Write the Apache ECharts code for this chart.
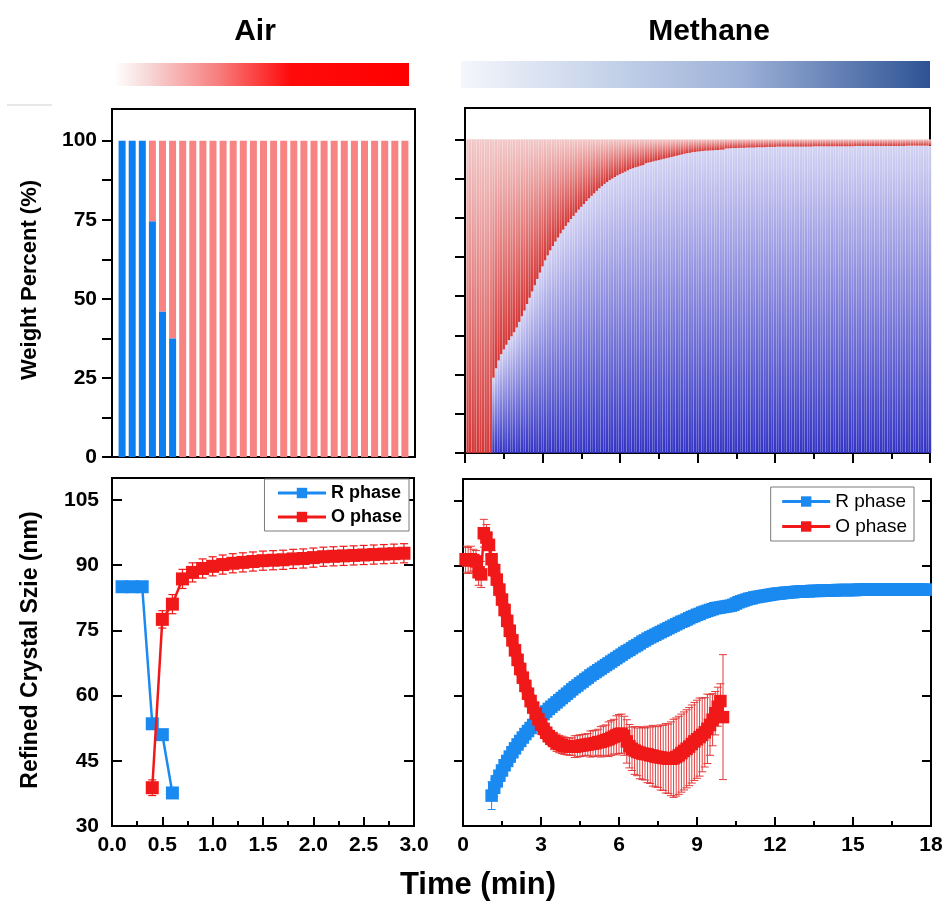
<!DOCTYPE html>
<html>
<head>
<meta charset="utf-8">
<script src="https://cdn.jsdelivr.net/npm/echarts@6/dist/echarts.min.js"></script>
<style>
  html, body { margin: 0; padding: 0; background: #fff; }
  #chart { width: 948px; height: 905px; }
</style>
</head>
<body>
<div id="chart"></div>
<script>
// ---------------- Air atmosphere ----------------
// sampling times of the weight-fraction bars (min)
const airTimes = [0.1,0.2,0.3,0.4,0.5,0.6,0.7,0.8,0.9,1.0,1.1,1.2,1.3,1.4,1.5,1.6,1.7,1.8,1.9,2.0,2.1,2.2,2.3,2.4,2.5,2.6,2.7,2.8,2.9];
// weight percent of the R and O phases
const airWeightR = [100,100,100,74.5,46,37.5,0,0,0,0,0,0,0,0,0,0,0,0,0,0,0,0,0,0,0,0,0,0,0];
const airWeightO = [0,0,0,25.5,54,62.5,100,100,100,100,100,100,100,100,100,100,100,100,100,100,100,100,100,100,100,100,100,100,100];

// refined crystal size (nm) of each phase
const airSizeTimesR = [0.1,0.2,0.3,0.4,0.5,0.6];
const airSizeR = [85,85,85,53.5,51,37.6];
const airSizeRErr = [0.8,0.8,0.8,1,1,1];
const airSizeTimesO = [0.4,0.5,0.6,0.7,0.8,0.9,1.0,1.1,1.2,1.3,1.4,1.5,1.6,1.7,1.8,1.9,2.0,2.1,2.2,2.3,2.4,2.5,2.6,2.7,2.8,2.9];
const airSizeO = [38.8,77.5,81,86.8,88.3,89.2,89.7,90.1,90.4,90.6,90.8,91,91.1,91.2,91.4,91.5,91.7,91.9,92,92.1,92.2,92.3,92.4,92.5,92.6,92.7];
const airSizeOErr = [1.8,2,2.2,2.2,2.2,2.2,2.2,2.2,2.2,2.2,2.2,2.2,2.2,2.2,2.2,2.2,2.2,2.2,2.2,2.2,2.2,2.2,2.2,2.2,2.2,2.2];

// ---------------- Methane atmosphere ----------------
// weight fractions sampled every 0.1 min from 0.1 to 18.0 min
const methaneWeightStart = 0.1;
const methaneStep = 0.1;
const methaneWeightR = [
  0,0,0,0,0,0,0,0,0,0,
  24,27,29.5,31.5,33,34.5,36,37.2,38.5,40,
  41.8,43.6,45.4,47.5,49.5,51.5,53.5,55.5,57.5,59.5,
  61.4,63,64.6,66,67.4,68.7,70,71.2,72.4,73.5,
  74.6,75.6,76.6,77.6,78.5,79.4,80.3,81.2,82,82.8,
  83.6,84.4,85.1,85.8,86.4,87,87.5,88,88.5,88.9,
  89.3,89.7,90.1,90.5,90.8,91.1,91.3,91.6,91.8,92.4,
  92.6,92.8,93,93.2,93.4,93.6,93.8,94,94.2,94.4,
  94.6,94.8,95,95.2,95.4,95.6,95.7,95.9,96,96.1,
  96.2,96.3,96.4,96.4,96.5,96.5,96.6,96.6,96.7,96.7,
  97.1,97.1,97.2,97.2,97.2,97.3,97.3,97.3,97.4,97.4,
  97.4,97.4,97.5,97.5,97.5,97.5,97.6,97.6,97.6,97.6,
  97.7,97.7,97.7,97.7,97.7,97.7,97.7,97.7,97.7,97.7,
  97.7,97.7,97.7,97.7,97.8,97.8,97.8,97.8,97.8,97.8,
  97.8,97.8,97.8,97.8,97.8,97.8,97.8,97.8,97.8,97.8,
  97.9,97.9,97.9,97.9,97.9,97.9,97.9,97.9,97.9,97.9,
  97.9,97.9,97.9,97.9,97.9,97.9,97.9,97.9,97.9,97.9,
  98,98,98,98,98,98,98,98,98,98
];
const methaneWeightO = [
  100,100,100,100,100,100,100,100,100,100,
  76,73,70.5,68.5,67,65.5,64,62.8,61.5,60,
  58.2,56.4,54.6,52.5,50.5,48.5,46.5,44.5,42.5,40.5,
  38.6,37,35.4,34,32.6,31.3,30,28.8,27.6,26.5,
  25.4,24.4,23.4,22.4,21.5,20.6,19.7,18.8,18,17.2,
  16.4,15.6,14.9,14.2,13.6,13,12.5,12,11.5,11.1,
  10.7,10.3,9.9,9.5,9.2,8.9,8.7,8.4,8.2,7.6,
  7.4,7.2,7,6.8,6.6,6.4,6.2,6,5.8,5.6,
  5.4,5.2,5,4.8,4.6,4.4,4.3,4.1,4,3.9,
  3.8,3.7,3.6,3.6,3.5,3.5,3.4,3.4,3.3,3.3,
  2.9,2.9,2.8,2.8,2.8,2.7,2.7,2.7,2.6,2.6,
  2.6,2.6,2.5,2.5,2.5,2.5,2.4,2.4,2.4,2.4,
  2.3,2.3,2.3,2.3,2.3,2.3,2.3,2.3,2.3,2.3,
  2.3,2.3,2.3,2.3,2.2,2.2,2.2,2.2,2.2,2.2,
  2.2,2.2,2.2,2.2,2.2,2.2,2.2,2.2,2.2,2.2,
  2.1,2.1,2.1,2.1,2.1,2.1,2.1,2.1,2.1,2.1,
  2.1,2.1,2.1,2.1,2.1,2.1,2.1,2.1,2.1,2.1,
  2,2,2,2,2,2,2,2,2,2
];

// R-phase crystal size, every 0.1 min from 1.1 to 17.8 min
const methaneSizeRStart = 1.1;
const methaneSizeR = [
  37,38.8,40.3,41.6,42.8,44,45,46,47,47.9,
  48.8,49.6,50.4,51.2,51.9,52.6,53.3,54,54.6,55.2,
  55.8,56.4,57,57.5,58,58.5,59,59.5,60,60.5,
  61,61.5,62,62.4,62.9,63.3,63.8,64.2,64.7,65.1,
  65.5,65.9,66.3,66.7,67.1,67.5,67.9,68.3,68.7,69.1,
  69.5,69.9,70.3,70.6,71,71.4,71.7,72.1,72.5,72.8,
  73.2,73.5,73.8,74.1,74.4,74.7,75,75.3,75.6,75.9,
  76.2,76.5,76.8,77.1,77.3,77.6,77.9,78.2,78.4,78.7,
  78.9,79.2,79.4,79.6,79.8,80,80.2,80.3,80.4,80.5,
  80.6,80.7,80.8,81,81.3,81.6,81.8,82,82.2,82.4,
  82.5,82.7,82.8,82.9,83,83.1,83.2,83.3,83.4,83.5,
  83.6,83.6,83.7,83.8,83.8,83.9,83.9,84,84,84.1,
  84.1,84.1,84.1,84.2,84.2,84.2,84.2,84.3,84.3,84.3,
  84.3,84.3,84.3,84.4,84.4,84.4,84.4,84.4,84.4,84.4,
  84.4,84.5,84.5,84.5,84.5,84.5,84.5,84.5,84.5,84.5,
  84.5,84.5,84.5,84.5,84.5,84.5,84.5,84.5,84.5,84.5,
  84.5,84.5,84.5,84.5,84.5,84.5,84.5,84.5
];
const methaneSizeRErr = [
  3.2,2,1.5,1.2,1,1,1,1,1,1,
  1,1,1,1,1,1,1,1,1,1,
  1,1,1,1,1,1,1,1,1,1,
  1,1,1,1,1,1,1,1,1,1,
  1,1,1,1,1,1,1,1,1,1,
  1,1,1,1,1,1,1,1,1,1,
  1,1,1,1,1,1,1,1,1,1,
  1,1,1,1,1,1,1,1,1,1,
  1,1,1,1,1,1,1,1,1,1,
  1,1,1,1,1,1,1,1,1,1,
  1,1,1,1,1,1,1,1,1,1,
  1,1,1,1,1,1,1,1,1,1,
  1,1,1,1,1,1,1,1,1,1,
  1,1,1,1,1,1,1,1,1,1,
  1,1,1,1,1,1,1,1,1,1,
  1,1,1,1,1,1,1,1,1,1,
  1,1,1,1,1,1,1,1
];

// O-phase crystal size, every 0.1 min from 0.1 to 10.0 min
const methaneSizeOStart = 0.1;
const methaneSizeO = [
  91.5,91.2,91.5,91.3,91,88.5,88,97.5,96.5,94.8,
  91.5,89,86.8,84.5,82.2,79.8,77.3,75,72.8,70.5,
  68.3,66.2,64.2,62.3,60.5,58.8,57.3,55.9,54.6,53.4,
  52.4,51.5,50.7,50.1,49.6,49.2,48.9,48.7,48.5,48.4,
  48.3,48.3,48.3,48.4,48.5,48.6,48.7,48.8,48.9,49,
  49.1,49.3,49.4,49.6,49.8,50,50.3,50.6,50.9,51.2,
  51.3,50.8,49.5,48.4,47.8,47.4,47.1,46.9,46.7,46.6,
  46.5,46.3,46.2,46,45.9,45.8,45.7,45.6,45.5,45.5,
  45.6,45.9,46.3,46.8,47.3,47.8,48.3,48.9,49.5,50,
  50.5,51,51.6,52.4,53.3,54.5,56,57.5,58.8,55.1
];
const methaneSizeOErr = [
  3,3,3,2.5,2.5,3,3,3.2,3,2.5,
  2,1.5,1.5,1.5,1.5,1.5,1.5,1.5,1.5,1.5,
  1.5,1.5,1.5,1.5,1.5,1.5,1.5,1.5,1.5,1.5,
  1.5,1.5,1.5,1.5,2,2,2,2,2,2,
  2,2,2.5,2.5,2.5,2.5,2.5,2.5,3,3,
  3,3,3.5,3.5,3.5,4,4,4,4.5,4.5,
  4.5,4.5,5,5,5,5.5,5.5,6,6,6,
  6.5,6.5,7,7,7,7.5,7.5,8,8,8.5,
  9,9,9,9,9,9,9,9,9,9,
  9,8.5,8,8,7,6,5,4.5,4,14.4
];

// axis tick / label positions
const weightTicks = [0,12.5,25,37.5,50,62.5,75,87.5,100];
const weightLabels = [0,25,50,75,100];
const sizeTicks = [30,45,60,75,90,105];

// ---------------- helpers ----------------
const FONT = '"Liberation Sans", Arial, Helvetica, sans-serif';
const BLUE = '#1a8af0';
const RED = '#f01818';

function stepTimes(start, n) {
  const out = [];
  for (let i = 0; i < n; i++) out.push(+(start + i * methaneStep).toFixed(1));
  return out;
}
function pairs(xs, ys) { return ys.map((v, i) => [xs[i], v]); }
// value first so that stacking accumulates the weight dimension
function stackPairs(xs, ys) { return ys.map((v, i) => [v, xs[i]]); }

const methaneWeightTimes = stepTimes(methaneWeightStart, methaneWeightR.length);
const methaneSizeRTimes = stepTimes(methaneSizeRStart, methaneSizeR.length);
const methaneSizeOTimes = stepTimes(methaneSizeOStart, methaneSizeO.length);

function errorBars(xIdx, yIdx, xs, vals, errs, color, capHalf, lw, z) {
  return {
    type: 'custom', xAxisIndex: xIdx, yAxisIndex: yIdx, z: z, silent: true, clip: true,
    encode: { x: 0, y: [1, 2] },
    data: vals.map((v, i) => [xs[i], v - errs[i], v + errs[i]]),
    renderItem: function (params, api) {
      const x = api.value(0);
      const lo = api.coord([x, api.value(1)]);
      const hi = api.coord([x, api.value(2)]);
      const style = { stroke: color, lineWidth: lw };
      return {
        type: 'group',
        children: [
          { type: 'line', shape: { x1: lo[0], y1: lo[1], x2: hi[0], y2: hi[1] }, style: style },
          { type: 'line', shape: { x1: lo[0] - capHalf, y1: lo[1], x2: lo[0] + capHalf, y2: lo[1] }, style: style },
          { type: 'line', shape: { x1: hi[0] - capHalf, y1: hi[1], x2: hi[0] + capHalf, y2: hi[1] }, style: style }
        ]
      };
    }
  };
}

const labelStyle = { color: '#000', fontFamily: FONT, fontWeight: 'bold', fontSize: 21 };
const noLine = { show: false };
const tickLine = { color: '#000', width: 2 };

const grids = [
  { left: 112, top: 109, width: 303, height: 348 },  // air weight
  { left: 465, top: 108, width: 465, height: 345 },  // methane weight
  { left: 112, top: 478, width: 302, height: 348 },  // air size
  { left: 463, top: 479, width: 468, height: 347 }   // methane size
].map(g => Object.assign(g, { show: true, borderColor: '#000', borderWidth: 2, backgroundColor: 'transparent' }));

const xAxes = [
  { gridIndex: 0, type: 'value', min: 0, max: 3, axisLine: noLine, axisTick: { show: false }, axisLabel: { show: false }, splitLine: { show: false } },
  { gridIndex: 1, type: 'value', min: 0, max: 18, interval: 3, axisLine: noLine,
    axisTick: { show: true, length: 10, lineStyle: tickLine },
    minorTick: { show: true, splitNumber: 2, length: 6, lineStyle: tickLine },
    axisLabel: { show: false }, splitLine: { show: false } },
  { gridIndex: 2, type: 'value', min: 0, max: 3, interval: 0.5, axisLine: noLine,
    axisTick: { show: true, inside: true, length: 9, lineStyle: tickLine },
    minorTick: { show: true, splitNumber: 2, length: 5, lineStyle: tickLine },
    axisLabel: Object.assign({ margin: 9, formatter: v => v.toFixed(1) }, labelStyle), splitLine: { show: false } },
  { gridIndex: 3, type: 'value', min: 0, max: 18, interval: 3, axisLine: noLine,
    axisTick: { show: true, inside: true, length: 9, lineStyle: tickLine },
    minorTick: { show: true, splitNumber: 2, length: 5, lineStyle: tickLine },
    axisLabel: Object.assign({ margin: 9, formatter: v => String(Math.round(v)) }, labelStyle), splitLine: { show: false } }
];

const yAxes = [
  { gridIndex: 0, type: 'value', min: 0, max: 110, axisLine: noLine,
    axisTick: { show: true, length: 10, lineStyle: tickLine, customValues: weightTicks },
    axisLabel: Object.assign({ margin: 15, customValues: weightLabels }, labelStyle), splitLine: { show: false } },
  { gridIndex: 1, type: 'value', min: 0, max: 110, axisLine: noLine,
    axisTick: { show: true, length: 10, lineStyle: tickLine, customValues: weightTicks },
    axisLabel: { show: false }, splitLine: { show: false } },
  { gridIndex: 2, type: 'value', min: 30, max: 110, axisLine: noLine,
    axisTick: { show: true, inside: true, length: 10, lineStyle: tickLine, customValues: sizeTicks },
    axisLabel: Object.assign({ margin: 13, customValues: sizeTicks }, labelStyle), splitLine: { show: false } },
  { gridIndex: 2, type: 'value', position: 'right', min: 30, max: 110, axisLine: noLine,
    axisTick: { show: true, inside: true, length: 10, lineStyle: tickLine, customValues: sizeTicks.slice(1) },
    axisLabel: { show: false }, splitLine: { show: false } },
  { gridIndex: 3, type: 'value', min: 30, max: 110, axisLine: noLine,
    axisTick: { show: true, length: 9, lineStyle: tickLine, customValues: sizeTicks.slice(1) },
    axisLabel: { show: false }, splitLine: { show: false } },
  { gridIndex: 3, type: 'value', position: 'right', min: 30, max: 110, axisLine: noLine,
    axisTick: { show: true, inside: true, length: 9, lineStyle: tickLine, customValues: sizeTicks.slice(1) },
    axisLabel: { show: false }, splitLine: { show: false } }
];

const grad = (top, bottom) => new echarts.graphic.LinearGradient(0, 0, 0, 1, [
  { offset: 0, color: top }, { offset: 1, color: bottom }
]);

const barCommon = { type: 'bar', silent: true, encode: { x: 1, y: 0 } };

const series = [
  // air: stacked weight bars
  Object.assign({ name: 'R weight (air)', xAxisIndex: 0, yAxisIndex: 0, stack: 'air', barWidth: 7,
    data: stackPairs(airTimes, airWeightR), itemStyle: { color: '#0b7ff2' } }, barCommon),
  Object.assign({ name: 'O weight (air)', xAxisIndex: 0, yAxisIndex: 0, stack: 'air', barWidth: 7,
    data: stackPairs(airTimes, airWeightO), itemStyle: { color: '#f88383' } }, barCommon),
  // methane: stacked weight bars
  Object.assign({ name: 'R weight (methane)', xAxisIndex: 1, yAxisIndex: 1, stack: 'ch4', barWidth: 2.4,
    data: stackPairs(methaneWeightTimes, methaneWeightR), itemStyle: { color: grad('#d2d2f3', '#3434c4') } }, barCommon),
  Object.assign({ name: 'O weight (methane)', xAxisIndex: 1, yAxisIndex: 1, stack: 'ch4', barWidth: 2.4,
    data: stackPairs(methaneWeightTimes, methaneWeightO), itemStyle: { color: grad('#f2c8c8', '#d43636') } }, barCommon),

  // air: crystal size
  errorBars(2, 2, airSizeTimesR, airSizeR, airSizeRErr, BLUE, 4, 1.2, 3),
  { name: 'R phase', type: 'line', xAxisIndex: 2, yAxisIndex: 2, z: 4,
    data: pairs(airSizeTimesR, airSizeR), symbol: 'rect', symbolSize: 13,
    lineStyle: { color: BLUE, width: 2.5 }, itemStyle: { color: BLUE }, silent: true },
  errorBars(2, 2, airSizeTimesO, airSizeO, airSizeOErr, RED, 4, 1.2, 5),
  { name: 'O phase', type: 'line', xAxisIndex: 2, yAxisIndex: 2, z: 6,
    data: pairs(airSizeTimesO, airSizeO), symbol: 'rect', symbolSize: 13,
    lineStyle: { color: RED, width: 2.5 }, itemStyle: { color: RED }, silent: true },

  // methane: crystal size
  errorBars(3, 4, methaneSizeRTimes, methaneSizeR, methaneSizeRErr, BLUE, 4, 1, 3),
  { name: 'R phase', type: 'line', xAxisIndex: 3, yAxisIndex: 4, z: 4,
    data: pairs(methaneSizeRTimes, methaneSizeR), symbol: 'rect', symbolSize: 12.5,
    lineStyle: { color: BLUE, width: 2.5 }, itemStyle: { color: BLUE }, silent: true },
  errorBars(3, 4, methaneSizeOTimes, methaneSizeO, methaneSizeOErr, '#e43a3a', 4, 1, 5),
  { name: 'O phase', type: 'line', xAxisIndex: 3, yAxisIndex: 4, z: 6,
    data: pairs(methaneSizeOTimes, methaneSizeO), symbol: 'rect', symbolSize: 12.5,
    lineStyle: { color: RED, width: 2.5 }, itemStyle: { color: RED }, silent: true }
];

const legendBase = {
  orient: 'vertical', data: ['R phase', 'O phase'], selectedMode: false,
  backgroundColor: '#fff', borderColor: '#7a7a7a', borderWidth: 1, borderRadius: 0,
  itemWidth: 48, itemHeight: 13, lineStyle: { width: 3 }
};

const option = {
  animation: false,
  backgroundColor: '#fff',
  grid: grids,
  xAxis: xAxes,
  yAxis: yAxes,
  series: series,
  legend: [
    Object.assign({}, legendBase, {
      right: 539, top: 479, padding: [5, 7, 5, 12], itemGap: 6,
      textStyle: { color: '#000', fontFamily: FONT, fontWeight: 'bold', fontSize: 18 }
    }),
    Object.assign({}, legendBase, {
      right: 34, top: 487, padding: [5, 7, 5, 10], itemGap: 6,
      textStyle: { color: '#000', fontFamily: FONT, fontSize: 19 }
    })
  ],
  graphic: [
    { type: 'text', x: 255, y: 32, style: { text: 'Air', fill: '#000', font: 'bold 30px ' + FONT, align: 'center', verticalAlign: 'middle' } },
    { type: 'text', x: 709, y: 32, style: { text: 'Methane', fill: '#000', font: 'bold 30px ' + FONT, align: 'center', verticalAlign: 'middle' } },
    { type: 'rect', shape: { x: 114, y: 63, width: 295, height: 23 },
      style: { fill: new echarts.graphic.LinearGradient(0, 0, 1, 0, [
        { offset: 0, color: '#ffffff' }, { offset: 0.12, color: '#f7d6d6' }, { offset: 0.35, color: '#f77f7f' },
        { offset: 0.6, color: '#ff0a0a' }, { offset: 1, color: '#ff0000' }]) } },
    { type: 'rect', shape: { x: 461, y: 61, width: 469, height: 27 },
      style: { fill: new echarts.graphic.LinearGradient(0, 0, 1, 0, [
        { offset: 0, color: '#f4f6fb' }, { offset: 0.3, color: '#c7d4ea' }, { offset: 0.6, color: '#9db1d8' },
        { offset: 1, color: '#2e5394' }]) } },
    { type: 'line', shape: { x1: 7, y1: 105, x2: 52, y2: 105 }, style: { stroke: '#cfcfcf', lineWidth: 1 } },
    { type: 'text', x: 30, y: 280, rotation: Math.PI / 2,
      style: { text: 'Weight Percent (%)', fill: '#000', font: 'bold 22px ' + FONT, align: 'center', verticalAlign: 'middle' } },
    { type: 'text', x: 31, y: 650, rotation: Math.PI / 2,
      style: { text: 'Refined Crystal Szie (nm)', fill: '#000', font: 'bold 23px ' + FONT, align: 'center', verticalAlign: 'middle' } },
    { type: 'text', x: 478, y: 885,
      style: { text: 'Time (min)', fill: '#000', font: 'bold 31px ' + FONT, align: 'center', verticalAlign: 'middle' } }
  ]
};

const chart = echarts.init(document.getElementById('chart'), null, { renderer: 'canvas' });
chart.setOption(option);
</script>
</body>
</html>
